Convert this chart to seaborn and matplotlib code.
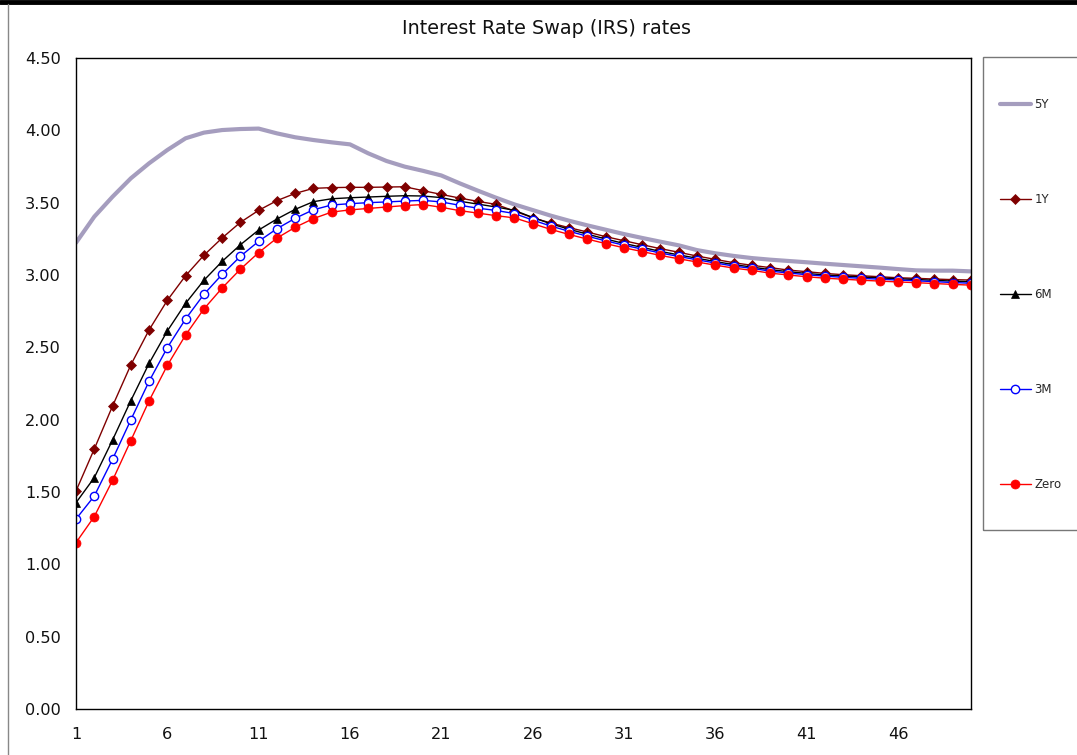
import numpy as np
import pandas as pd
import matplotlib
matplotlib.use("Agg")
import matplotlib.pyplot as plt
import seaborn as sns
from matplotlib.patches import Rectangle
from matplotlib.lines import Line2D


# tenor index on the category axis
periods = list(range(1, 51))

rate_5y = [3.223, 3.403, 3.541, 3.668, 3.772, 3.864, 3.945, 3.984, 4.002, 4.009,
           4.012, 3.979, 3.952, 3.933, 3.917, 3.903, 3.841, 3.788, 3.749, 3.720,
           3.688, 3.634, 3.583, 3.534, 3.488, 3.449, 3.410, 3.375, 3.343, 3.313,
           3.283, 3.256, 3.230, 3.205, 3.172, 3.150, 3.132, 3.117, 3.106, 3.097,
           3.088, 3.078, 3.069, 3.060, 3.051, 3.041, 3.032, 3.030, 3.030, 3.025]

rate_1y = [1.507, 1.797, 2.094, 2.378, 2.620, 2.825, 2.995, 3.136, 3.256, 3.364,
           3.447, 3.514, 3.564, 3.599, 3.604, 3.606, 3.606, 3.608, 3.610, 3.583,
           3.557, 3.532, 3.509, 3.488, 3.442, 3.396, 3.359, 3.327, 3.297, 3.265,
           3.237, 3.209, 3.182, 3.157, 3.131, 3.108, 3.085, 3.067, 3.051, 3.034,
           3.023, 3.011, 3.002, 2.995, 2.988, 2.981, 2.977, 2.972, 2.968, 2.965]

rate_6m = [1.426, 1.599, 1.859, 2.131, 2.389, 2.613, 2.804, 2.963, 3.094, 3.209,
           3.311, 3.387, 3.454, 3.507, 3.527, 3.534, 3.539, 3.544, 3.548, 3.546,
           3.535, 3.510, 3.490, 3.470, 3.447, 3.398, 3.354, 3.316, 3.282, 3.249,
           3.218, 3.191, 3.163, 3.139, 3.116, 3.093, 3.072, 3.055, 3.037, 3.023,
           3.011, 3.000, 2.993, 2.986, 2.980, 2.974, 2.969, 2.963, 2.958, 2.953]

rate_3m = [1.313, 1.472, 1.726, 1.998, 2.265, 2.498, 2.696, 2.866, 3.004, 3.129,
           3.233, 3.320, 3.392, 3.451, 3.484, 3.493, 3.500, 3.505, 3.511, 3.516,
           3.505, 3.482, 3.462, 3.446, 3.425, 3.380, 3.338, 3.302, 3.268, 3.236,
           3.206, 3.179, 3.152, 3.128, 3.105, 3.083, 3.062, 3.046, 3.027, 3.014,
           3.002, 2.992, 2.984, 2.977, 2.971, 2.965, 2.960, 2.954, 2.948, 2.943]

rate_zero = [1.150, 1.330, 1.580, 1.855, 2.130, 2.375, 2.585, 2.765, 2.910, 3.040,
             3.155, 3.255, 3.330, 3.390, 3.435, 3.450, 3.460, 3.470, 3.480, 3.487,
             3.468, 3.445, 3.428, 3.410, 3.395, 3.355, 3.315, 3.280, 3.248, 3.217,
             3.188, 3.162, 3.135, 3.112, 3.090, 3.068, 3.048, 3.032, 3.013, 3.000,
             2.988, 2.978, 2.971, 2.964, 2.958, 2.952, 2.947, 2.941, 2.935, 2.930]

x_ticks = [1, 6, 11, 16, 21, 26, 31, 36, 41, 46]
y_ticks = [0.0, 0.5, 1.0, 1.5, 2.0, 2.5, 3.0, 3.5, 4.0, 4.5]

series = {
    "5Y": rate_5y,
    "1Y": rate_1y,
    "6M": rate_6m,
    "3M": rate_3m,
    "Zero": rate_zero,
}

# look of each series, drawn in this order
styles = {
    "5Y":   dict(color="#A59DBE", lw=3.0, marker=None),
    "1Y":   dict(color="#7F0000", lw=1.0, marker="D", ms=5.2, mfc="#7F0000", mec="#7F0000"),
    "6M":   dict(color="#000000", lw=1.0, marker="^", ms=6, mfc="#000000", mec="#000000"),
    "3M":   dict(color="#0000FF", lw=1.0, marker="o", ms=6, mfc="white", mec="#0000FF", mew=1.0),
    "Zero": dict(color="#FF0000", lw=1.0, marker="o", ms=6.5, mfc="#FF0000", mec="#FF0000"),
}

sns.set_style("white")
plt.rcParams["font.family"] = ["DejaVu Sans"]

W, H = 1077, 755
fig = plt.figure(figsize=(W / 100, H / 100), dpi=100)
ax = fig.add_axes([76 / W, 1 - 709 / H, (971 - 76) / W, (709 - 58) / H])

for name, vals in series.items():
    st = styles[name]
    df = pd.DataFrame({"period": periods, "rate": vals})
    kw = dict(color=st["color"], linewidth=st["lw"], label=name)
    if st["marker"]:
        kw.update(marker=st["marker"], markersize=st["ms"], markerfacecolor=st["mfc"],
                  markeredgecolor=st["mec"], markeredgewidth=st.get("mew", 0.5))
    sns.lineplot(data=df, x="period", y="rate", ax=ax, **kw)

ax.set_xlim(1, 50)
ax.set_ylim(0, 4.5)
ax.set_xticks(x_ticks)
ax.set_xticklabels([str(t) for t in x_ticks])
ax.set_yticks(y_ticks)
ax.set_yticklabels([f"{t:.2f}" for t in y_ticks])
ax.tick_params(axis="both", length=0, labelsize=11.6, colors="#111111")
ax.tick_params(axis="y", pad=11)
ax.tick_params(axis="x", pad=13)
ax.set_xlabel("")
ax.set_ylabel("")
for side in ["left", "bottom", "top", "right"]:
    ax.spines[side].set_visible(True)
    ax.spines[side].set_color("#000000")
    ax.spines[side].set_linewidth(1.0)
ax.grid(False)

fig.text(546 / W, 1 - 29 / H, "Interest Rate Swap (IRS) rates",
         ha="center", va="center", fontsize=13.8, color="#111111")

# legend box on the right
fig.patches.append(Rectangle((983 / W, 1 - 530 / H), (1100 - 983) / W, (530 - 57) / H,
                             transform=fig.transFigure, fill=False,
                             edgecolor="#777777", linewidth=1.0))
handles, labels = ax.get_legend_handles_labels()
ax.legend(handles, labels, loc="upper left",
          bbox_to_anchor=(1000 / W, 1 - 98 / H), bbox_transform=fig.transFigure,
          frameon=False, fontsize=8.5, handlelength=2.6, handletextpad=0.3,
          labelspacing=6.95, borderpad=0, borderaxespad=0)

# outer borders of the chart object
fig.add_artist(Line2D([0, 1], [1 - 2 / H, 1 - 2 / H], transform=fig.transFigure,
                      color="black", linewidth=3.5))
fig.add_artist(Line2D([7.5 / W, 7.5 / W], [0, 1 - 4 / H], transform=fig.transFigure,
                      color="#888888", linewidth=1.0))

fig.savefig("out.png", dpi=100)
